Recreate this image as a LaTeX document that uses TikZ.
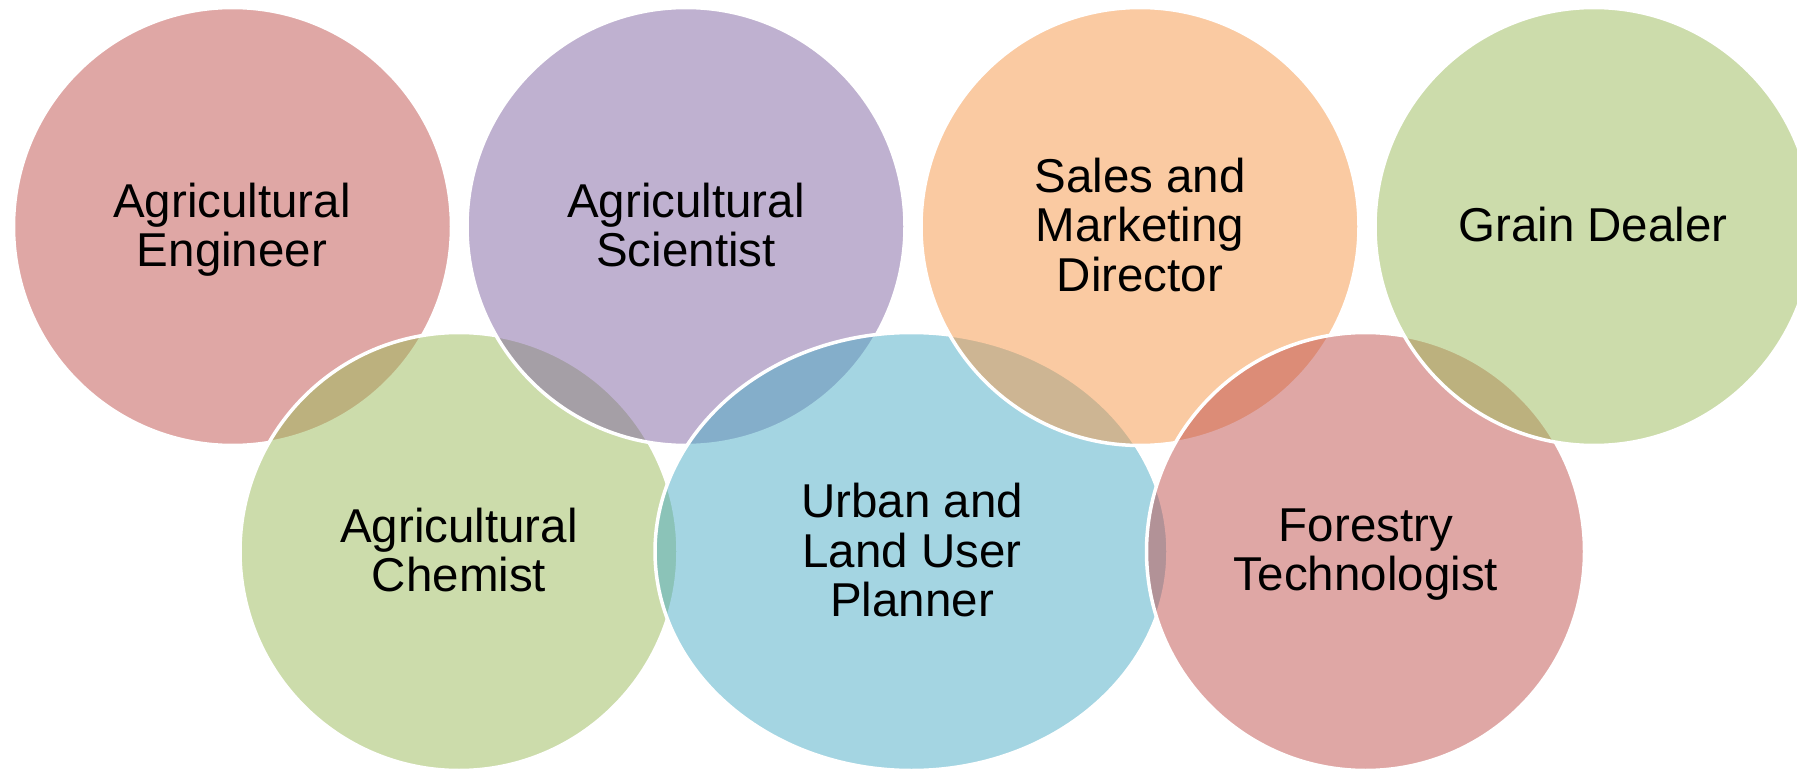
\documentclass[tikz,border=0pt]{standalone}
\usepackage{fontspec}
\setmainfont{Liberation Sans}
\usetikzlibrary{shapes.geometric}
\definecolor{cred}{HTML}{C0504D}
\definecolor{cgreen}{HTML}{9BBB59}
\definecolor{cpurple}{HTML}{8064A2}
\definecolor{cblue}{HTML}{4BACC6}
\definecolor{corange}{HTML}{F79646}
\begin{document}
\begin{tikzpicture}[x=1pt,y=-1pt,
  blob/.style={circle, minimum size=438pt, inner sep=0pt, fill opacity=0.5, draw=white, draw opacity=1, line width=3.5pt},
  oval/.style={ellipse, minimum width=513pt, minimum height=438pt, inner sep=0pt, fill opacity=0.5, draw=white, draw opacity=1, line width=3.5pt},
  lbl/.style={font=\fontsize{47.5}{49.3}\selectfont, align=center, text=black, text depth=0pt, inner sep=0pt}]
\path[use as bounding box, clip] (0,0) rectangle (1797,770);
\fill[white] (0,0) rectangle (1797,770);
% circles in stacking order
\node[blob, fill=cred]    (eng)    at (232.5,226.5) {};
\node[blob, fill=cgreen]  (chem)   at (459,551.5) {};
\node[blob, fill=cpurple] (sci)    at (686,226.5) {};
\node[oval, fill=cblue]   (plan)   at (911.5,551.5) {};
\node[blob, fill=corange] (sales)  at (1140,226.5) {};
\node[blob, fill=cred]    (forest) at (1365.5,551.5) {};
\node[blob, fill=cgreen]  (grain)  at (1594,226.5) {};
% labels
\node[lbl] (teng)    at (232,224.5)  {Agricultural\\Engineer};
\node[lbl] (tsci)    at (686,224.5)  {Agricultural\\Scientist};
\node[lbl] (tsales)  at (1140,224.5) {Sales and\\Marketing\\Director};
\node[lbl] (tgrain)  at (1593,224.5) {Grain Dealer};
\node[lbl] (tchem)   at (459,549.5)  {Agricultural\\Chemist};
\node[lbl] (tplan)   at (912,550)    {Urban and\\Land User\\Planner};
\node[lbl] (tforest) at (1366,549.5) {Forestry\\Technologist};
\end{tikzpicture}
\end{document}
